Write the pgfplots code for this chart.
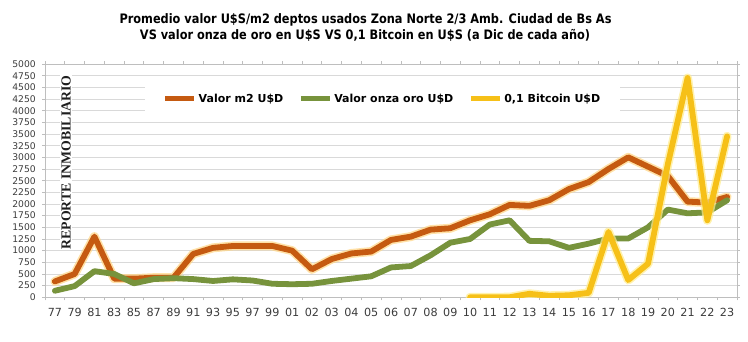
\documentclass[border=0pt]{standalone}
\usepackage{graphicx}
\usepackage{fontspec}
\setmainfont{DejaVu Sans}
\newfontfamily\serifb{Liberation Serif}
\usepackage{pgfplots}
\usepackage{pgfplotstable}
\pgfplotsset{compat=1.18}
\definecolor{cOr}{RGB}{197,90,17}
\definecolor{cGr}{RGB}{119,147,60}
\definecolor{cYe}{RGB}{246,192,24}
\definecolor{glowOr}{RGB}{255,212,130}
\definecolor{glowYe}{RGB}{255,236,140}
\definecolor{gridc}{RGB}{217,217,217}
\definecolor{axc}{RGB}{190,190,190}
\definecolor{txt}{RGB}{60,60,60}

\pgfplotstableread{
i m2 oro
0 340 140
1 500 240
2 1300 560
3 400 500
4 400 300
5 420 390
6 420 410
7 930 390
8 1060 350
9 1100 385
10 1100 360
11 1100 290
12 1000 280
13 600 290
14 820 350
15 940 400
16 980 450
17 1230 640
18 1300 670
19 1450 900
20 1480 1170
21 1650 1250
22 1780 1560
23 1980 1650
24 1960 1210
25 2080 1200
26 2320 1060
27 2470 1150
28 2750 1260
29 3000 1260
30 2800 1500
31 2600 1880
32 2050 1800
33 2030 1820
34 2150 2080
}\main

\pgfplotstableread{
i btc
21 0.03
22 0.5
23 1.3
24 75
25 32
26 43
27 96
28 1400
29 370
30 720
31 2850
32 4700
33 1650
34 3450
}\btc

\begin{document}
\begin{tikzpicture}
\useasboundingbox (0,0) rectangle (748bp,342bp);
\begin{axis}[
  at={(45bp,44.7bp)}, anchor=south west,
  scale only axis, width=692bp, height=233.3bp,
  xmin=-0.5, xmax=34.5, ymin=0, ymax=5000,
  axis line style={draw=axc, line width=0.75bp},
  ytick={0,250,...,5000},
  ymajorgrids, grid style={draw=gridc, line width=0.75bp},
  tick align=outside, major tick length=3bp,
  tick style={draw=axc, line width=0.75bp},
  xtick={-0.5,0.5,...,34.5}, xticklabels={},
  extra x ticks={0,1,...,34},
  extra x tick labels={77,79,81,83,85,87,89,91,93,95,97,99,01,02,03,04,05,06,07,08,09,10,11,12,13,14,15,16,17,18,19,20,21,22,23},
  extra x tick style={major tick length=0pt, grid=none},
  /pgf/number format/assume math mode=true,
  /pgf/number format/1000 sep={},
  yticklabel style={font=\fontsize{9.2bp}{11bp}\selectfont, text=txt, inner sep=0pt, anchor=east, xshift=-6bp},
  xticklabel style={font=\fontsize{11.2bp}{13bp}\selectfont, text=txt, inner sep=0pt, anchor=north, yshift=-11bp},
  legend columns=-1,
  legend style={at={(rel axis cs:0.4877,0.85)}, anchor=center, draw=none, fill=white,
    font=\fontsize{11bp}{13bp}\selectfont\bfseries, inner xsep=18bp, inner ysep=6bp,
    /tikz/every even column/.append style={column sep=13bp}},
  legend image code/.code={\draw[#1, line width=5bp, line cap=butt] (0bp,0bp) -- (29bp,0bp);},
  every axis plot/.append style={line join=round, line cap=round},
]
\addplot[glowOr, line width=9bp, opacity=0.7, forget plot] table[x=i,y=m2]{\main};
\addplot[cOr, line width=5.8bp] table[x=i,y=m2]{\main};
\addlegendentry{Valor m2 U\$D}
\addplot[cGr, line width=5.8bp] table[x=i,y=oro]{\main};
\addlegendentry{Valor onza oro U\$D}
\addplot[glowYe, line width=9bp, opacity=0.7, forget plot] table[x=i,y=btc]{\btc};
\addplot[cYe, line width=5.8bp] table[x=i,y=btc]{\btc};
\addlegendentry{0,1 Bitcoin U\$D}
\end{axis}
\node[rotate=90, fill=white, inner sep=1bp, text={rgb,255:red,30;green,30;blue,30}, font=\serifb\bfseries\fontsize{13.8bp}{15bp}\selectfont] at (66bp,179.5bp) {REPORTE INMOBILIARIO};
\node at (365.5bp,322.5bp) {\scalebox{1}[1.15]{\resizebox{492bp}{!}{\bfseries Promedio valor U\$S/m2 deptos usados Zona Norte 2/3 Amb. Ciudad de Bs As}}};
\node at (365bp,306.5bp) {\scalebox{1}[1.15]{\resizebox{450bp}{!}{\bfseries VS valor onza de oro en U\$S VS 0,1 Bitcoin en U\$S (a Dic de cada año)}}};
\end{tikzpicture}
\end{document}
